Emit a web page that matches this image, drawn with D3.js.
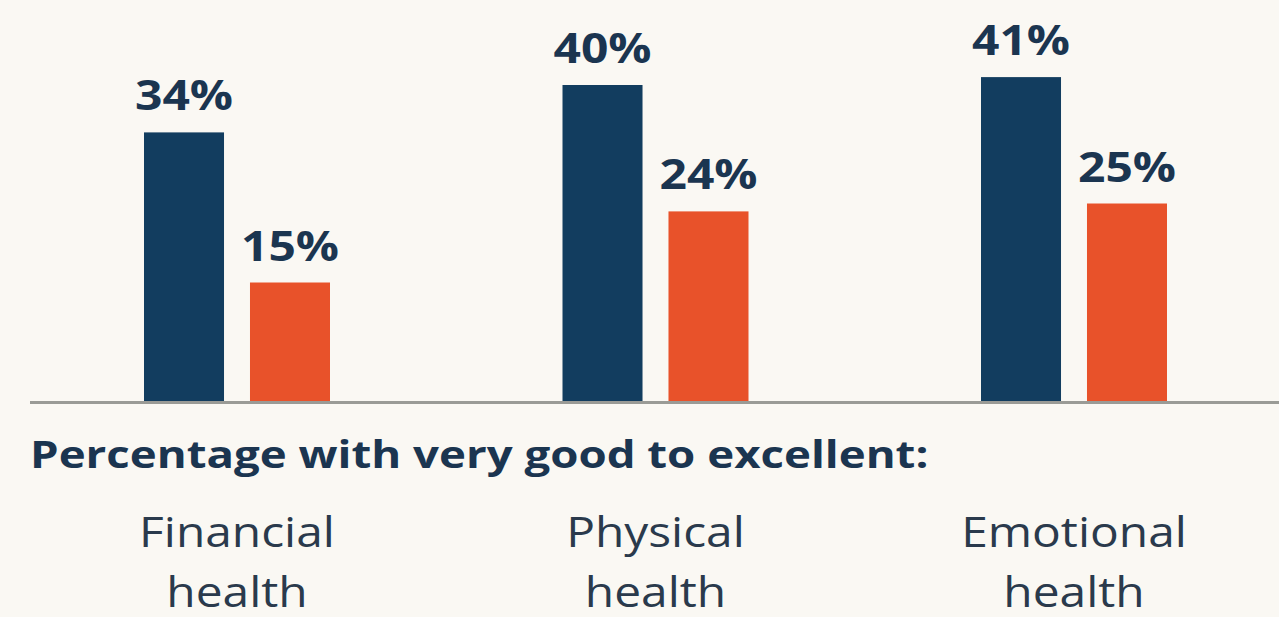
<!DOCTYPE html>
<html>
<head>
<meta charset="utf-8">
<script src="https://cdn.jsdelivr.net/npm/d3@7"></script>
<style>
  html, body { margin: 0; padding: 0; background: #faf8f3; }
  svg { display: block; }
</style>
</head>
<body>
<svg id="chart" width="1279" height="617"></svg>
<script>
// Share rating each aspect of health "very good" to "excellent", two groups
const categories = ["Financial health", "Physical health", "Emotional health"];
const categoryLines = [["Financial", "health"], ["Physical", "health"], ["Emotional", "health"]];
const series = ["groupA", "groupB"];
const groupA = [34, 40, 41];
const groupB = [15, 24, 25];
const seriesColors = ["#123d5f", "#e8522a"];
const caption = "Percentage with very good to excellent:";

const W = 1279, H = 617;
const baseline = 401;
const FONT = "'Open Sans', sans-serif";
const svg = d3.select("#chart");

svg.append("rect").attr("width", W).attr("height", H).attr("fill", "#faf8f3");

const x0 = d3.scalePoint().domain(categories).range([237, 1074]);
const x1 = d3.scaleBand().domain(series).range([-93, 93]).paddingInner(0.245);
const y = d3.scaleLinear().domain([0, 41]).range([baseline, baseline - 41 * 7.9]);

const rows = categories.map((c, i) => ({ cat: c, values: [groupA[i], groupB[i]] }));

const groups = svg.selectAll("g.grp").data(rows).join("g")
  .attr("class", "grp")
  .attr("transform", d => `translate(${x0(d.cat)},0)`);

groups.selectAll("rect").data(d => d.values.map((v, j) => ({ s: series[j], v, j })))
  .join("rect")
  .attr("x", d => x1(d.s))
  .attr("width", x1.bandwidth())
  .attr("y", d => y(d.v))
  .attr("height", d => y(0) - y(d.v))
  .attr("fill", d => seriesColors[d.j]);

// value labels, set in a slightly widened bold face
groups.selectAll("text.val").data(d => d.values.map((v, j) => ({ s: series[j], v })))
  .join("text")
  .attr("class", "val")
  .attr("transform", d => `translate(${x1(d.s) + x1.bandwidth() / 2},${y(d.v) - 22}) scale(1.17,1)`)
  .attr("text-anchor", "middle")
  .attr("font-family", FONT)
  .attr("font-weight", 700)
  .attr("font-size", 41)
  .attr("fill", "#1b3550")
  .text(d => d.v + "%");

// baseline rule
svg.append("line")
  .attr("x1", 30).attr("x2", W)
  .attr("y1", baseline + 1.5).attr("y2", baseline + 1.5)
  .attr("stroke", "#9a9b96").attr("stroke-width", 3);

svg.append("text")
  .attr("transform", "translate(30,468) scale(1.2,1)")
  .attr("font-family", FONT)
  .attr("font-weight", 700)
  .attr("font-size", 38)
  .attr("fill", "#1b3550")
  .text(caption);

const catText = svg.selectAll("text.cat").data(categories).join("text")
  .attr("class", "cat")
  .attr("transform", d => `translate(${x0(d)},0) scale(1.14,1)`)
  .attr("text-anchor", "middle")
  .attr("font-family", FONT)
  .attr("font-size", 42)
  .attr("fill", "#2a3a4c");

catText.selectAll("tspan").data((d, i) => categoryLines[i])
  .join("tspan")
  .attr("x", 0)
  .attr("y", (d, k) => 547 + k * 60)
  .text(d => d);
</script>
</body>
</html>
